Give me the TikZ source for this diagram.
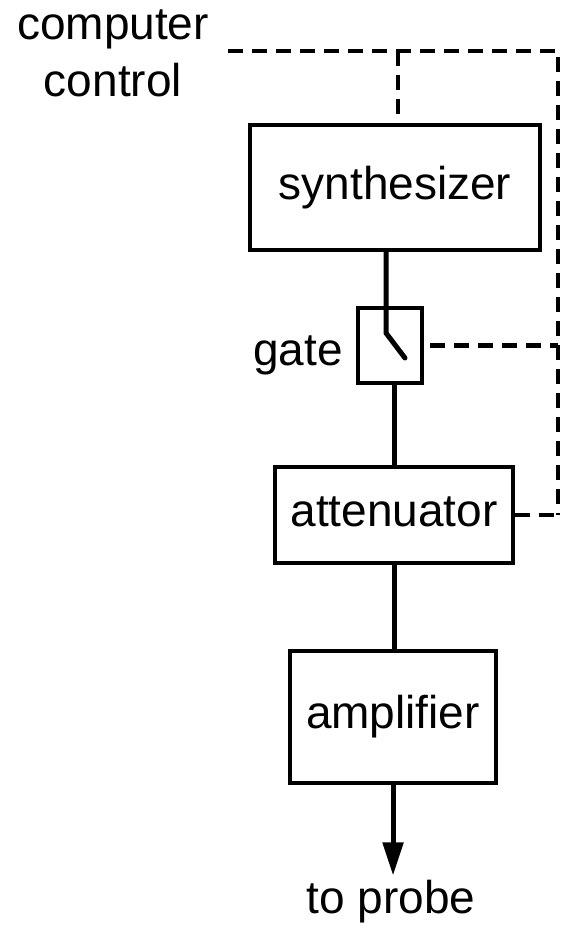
\documentclass[tikz,border=0pt]{standalone}
\usepackage{fontspec}
\setmainfont{Liberation Sans}
\usetikzlibrary{arrows.meta}
\begin{document}
\begin{tikzpicture}[x=1pt,y=-1pt,
  every node/.style={font=\fontsize{46}{55}\selectfont},
  blk/.style={draw,line width=4pt,rectangle,inner sep=0pt,text height=33pt,text depth=10pt},
  lbl/.style={inner sep=0pt},
  sig/.style={line width=5pt},
  ctl/.style={line width=4.5pt,dash pattern=on 15pt off 9pt}]
\useasboundingbox (0,0) rectangle (562,928);
\node[blk,minimum width=290pt,minimum height=125pt] (synth) at (395,187.5) {synthesizer};
\node[blk,minimum width=64pt,minimum height=75pt] (gate) at (390,345.5) {};
\node[blk,minimum width=238pt,minimum height=96pt] (att) at (394,515) {attenuator};
\node[blk,minimum width=206pt,minimum height=132pt] (amp) at (393,717) {amplifier};
\node[lbl,anchor=base] (cc1) at (113,40) {computer};
\node[lbl,anchor=base] (cc2) at (113,97) {control};
\node[lbl,anchor=base east] (gatelbl) at (343,365) {gate};
\node[anchor=base,inner sep=4pt] (probe) at (391,913) {to probe};
\coordinate (ctrl) at (228,51);
\coordinate (rt) at (558,51);
\coordinate (j1) at (398,51);
\coordinate (sw1) at (386,333);
\coordinate (sw2) at (405,358);
% signal path
\draw[sig,line cap=round] (synth.south -| sw1) -- (sw1) -- (sw2);
\draw[sig] (att.north) -- (att.north |- gate.south);
\draw[sig] (att.south) -- (att.south |- amp.north);
\draw[sig,-{Triangle[length=33pt,width=20pt]}] (amp.south) -- (amp.south |- probe.north);
% control lines
\draw[ctl] (ctrl) -- (rt) -- (rt |- att.east);
\draw[ctl] (j1) -- (j1 |- synth.north);
\draw[ctl,shorten <=6pt] (gate.east) -- (rt |- gate.east);
\draw[ctl] (att.east) -- (rt |- att.east);
\end{tikzpicture}
\end{document}
